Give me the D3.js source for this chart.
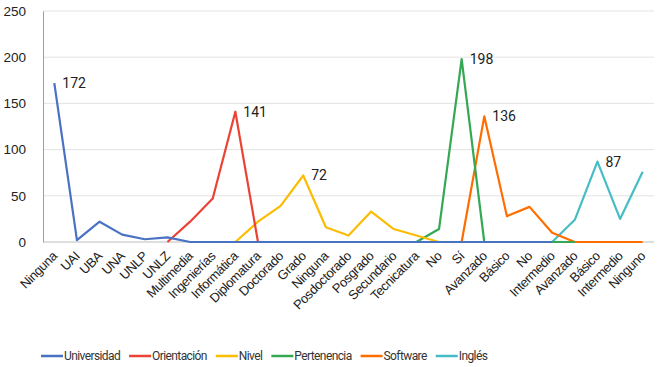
<!DOCTYPE html>
<html>
<head>
<meta charset="utf-8">
<script src="https://cdn.jsdelivr.net/npm/d3@7"></script>
<style>
  body { margin: 0; background: #fff; }
  svg { display: block; font-family: "Roboto", "DejaVu Sans Condensed", sans-serif; }
</style>
</head>
<body>
<svg id="chart" width="657" height="367"></svg>
<script>
// categories along the x axis (some names repeat, so points are placed by index)
var categories = ["Ninguna", "UAI", "UBA", "UNA", "UNLP", "UNLZ", "Multimedia", "Ingenierías", "Informática",
  "Diplomatura", "Doctorado", "Grado", "Ninguna", "Posdoctorado", "Posgrado", "Secundario", "Tecnicatura",
  "No", "Sí", "Avanzado", "Básico", "No", "Intermedio", "Avanzado", "Básico", "Intermedio", "Ninguno"];

// series values, null = no point for that category
var universidad = [172, 2, 22, 8, 3, 5, 0, 0, 0, 0, 0, 0, 0, 0, 0, 0, 0, 0, 0, 0, 0, 0, 0, null, null, null, null];
var orientacion = [null, null, null, null, null, 0, 22, 47, 141, 0, null, null, null, null, null, null, null, null, null, null, null, null, null, null, null, null, null];
var nivel = [null, null, null, null, null, null, null, null, 0, 22, 39, 72, 16, 7, 33, 14, 7, 0, null, null, null, null, null, null, null, null, null];
var pertenencia = [null, null, null, null, null, null, null, null, null, null, null, null, null, null, null, null, 0, 14, 198, 0, 0, 0, 0, 0, null, null, null];
var software = [null, null, null, null, null, null, null, null, null, null, null, null, null, null, null, null, null, null, 0, 136, 28, 38, 10, 0, 0, 0, 0];
var ingles = [null, null, null, null, null, null, null, null, null, null, null, null, null, null, null, null, null, null, null, null, null, null, 0, 24, 87, 25, 76];

var seriesNames = ["Universidad", "Orientación", "Nivel", "Pertenencia", "Software", "Inglés"];
var seriesValues = [universidad, orientacion, nivel, pertenencia, software, ingles];
var colors = ["#4a72c2", "#ea4335", "#fbbc04", "#34a853", "#ff6d01", "#46bdc6"];
var yTicks = [0, 50, 100, 150, 200, 250];

var plotLeft = 43, plotRight = 654, plotTop = 11, plotBottom = 242;

var svg = d3.select("#chart");

var x = d3.scalePoint()
  .domain(d3.range(categories.length))
  .range([plotLeft, plotRight])
  .padding(0.5);

var y = d3.scaleLinear()
  .domain([0, 250])
  .range([plotBottom, plotTop]);

// gridlines
svg.append("g")
  .selectAll("line")
  .data(yTicks.filter(function(d) { return d > 0; }))
  .enter().append("line")
    .attr("x1", plotLeft)
    .attr("x2", plotRight)
    .attr("y1", function(d) { return y(d); })
    .attr("y2", function(d) { return y(d); })
    .attr("stroke", "#e3e3e3")
    .attr("stroke-width", 1);

// y axis
var yAxis = svg.append("g")
  .attr("transform", "translate(" + plotLeft + ",0)")
  .call(d3.axisLeft(y).tickValues(yTicks).tickSize(0).tickPadding(17));
yAxis.select(".domain").attr("stroke", "#9e9e9e");
yAxis.selectAll("text").attr("font-size", "13.5px").attr("fill", "#222").attr("font-family", null);

// x axis
var xAxis = svg.append("g")
  .attr("transform", "translate(0," + plotBottom + ")")
  .call(d3.axisBottom(x).tickSize(0).tickFormat(function(i) { return categories[i]; }));
xAxis.select(".domain").attr("stroke", "#bdbdbd").attr("d", "M" + plotLeft + ",0H" + plotRight);
xAxis.selectAll("text")
  .attr("font-size", "13px")
  .attr("letter-spacing", "-0.4px")
  .attr("fill", "#222")
  .attr("font-family", null)
  .attr("text-anchor", "end")
  .attr("dy", null)
  .attr("y", null)
  .attr("transform", "translate(3,15) rotate(-45)");

// lines, drawn last series first so the first series stays on top
var line = d3.line()
  .defined(function(d) { return d != null; })
  .x(function(d, i) { return x(i); })
  .y(function(d) { return y(d); });

var order = d3.range(seriesNames.length).reverse();

svg.append("g")
  .selectAll("path")
  .data(order)
  .enter().append("path")
    .attr("d", function(k) { return line(seriesValues[k]); })
    .attr("fill", "none")
    .attr("stroke", function(k) { return colors[k]; })
    .attr("stroke-width", 2.2)
    .attr("stroke-linejoin", "round");

// label each series at its highest point
svg.append("g")
  .selectAll("text")
  .data(d3.range(seriesNames.length))
  .enter().append("text")
    .attr("x", function(k) { return x(d3.maxIndex(seriesValues[k])) + 8; })
    .attr("y", function(k) { return y(d3.max(seriesValues[k])); })
    .attr("dy", "0.35em")
    .attr("font-size", "14px")
    .attr("fill", "#222")
    .text(function(k) { return d3.max(seriesValues[k]); });

// legend
var legend = svg.append("g").attr("transform", "translate(41,356)");
var lx = 0;
seriesNames.forEach(function(name, k) {
  var item = legend.append("g").attr("transform", "translate(" + lx + ",0)");
  item.append("line")
    .attr("x1", 0).attr("x2", 22)
    .attr("stroke", colors[k])
    .attr("stroke-width", 2.5);
  var t = item.append("text")
    .attr("x", 23)
    .attr("dy", "0.35em")
    .attr("font-size", "12px")
    .attr("letter-spacing", "-0.6px")
    .attr("fill", "#333")
    .text(name);
  lx += 23 + t.node().getComputedTextLength() + 9;
});
</script>
</body>
</html>
